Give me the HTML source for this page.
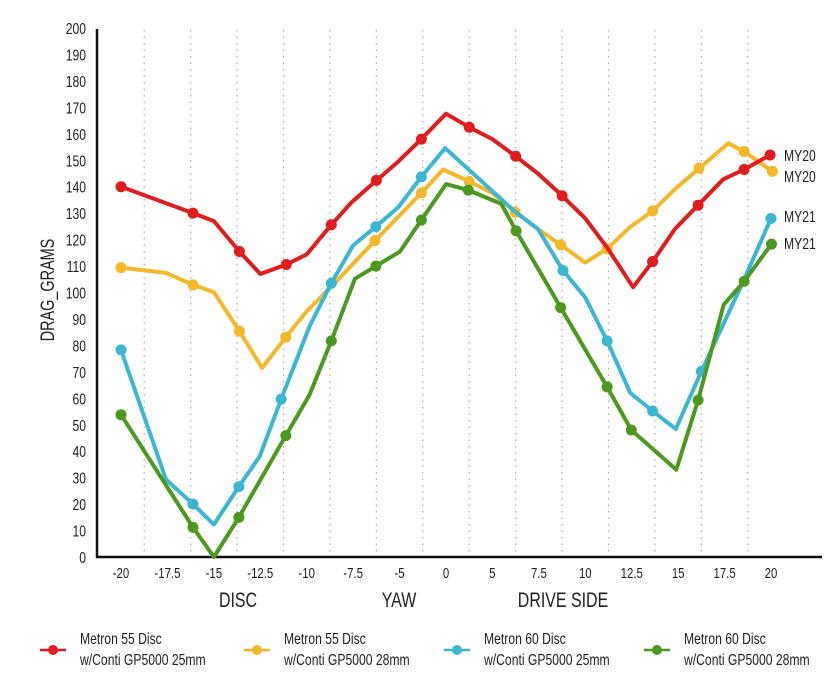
<!DOCTYPE html>
<html><head><meta charset="utf-8"><style>
html,body{margin:0;padding:0;background:#fff;}
svg{display:block;font-family:"Liberation Sans",sans-serif;}
</style></head><body>
<svg id="chart" width="834" height="675" viewBox="0 0 834 675" xmlns="http://www.w3.org/2000/svg"></svg>
<script>
const xLabels=["-20","-17.5","-15","-12.5","-10","-7.5","-5","0","5","7.5","10","12.5","15","17.5","20"];
const yTicks=[0,10,20,30,40,50,60,70,80,90,100,110,120,130,140,150,160,170,180,190,200];
const redX=[0,1.55,2.0,2.55,3.0,3.56,4.0,4.53,4.96,5.5,5.94,6.47,7.0,7.5,8.0,8.5,8.98,9.5,10.0,10.47,11.03,11.45,11.93,12.43,12.97,13.42,13.98];
const redY=[140,130,127,115.5,107,110.6,114.4,125.6,134,142.4,149,158,167.6,162.5,158,151.5,145,136.6,128,117,102,111.7,124,133,142.8,146.5,152];
const redM=[1,1,0,1,0,1,0,1,0,1,0,1,0,1,0,1,0,1,0,0,0,1,0,1,0,1,1];
const yelX=[0,0.97,1.55,2.0,2.55,3.04,3.55,4.0,4.53,5.47,6.47,6.94,7.5,8.0,8.49,8.98,9.47,10.0,10.47,10.96,11.45,11.93,12.45,13.08,13.42,14.03];
const yelY=[109.4,107.4,102.9,100.1,85.4,71.5,83.1,92.9,102.2,119.6,137.6,146.5,142,137.6,130.4,124,118,111.3,116.5,124.7,130.8,139,147,156.4,153.3,145.8];
const yelM=[1,0,1,0,1,0,1,0,0,1,1,0,1,0,1,0,1,0,1,0,1,0,1,0,1,1];
const cyaX=[0,0.97,1.55,2.0,2.54,2.99,3.45,4.06,4.53,5.0,5.49,5.97,6.47,6.98,8.47,8.98,9.52,10.0,10.47,10.97,11.45,11.95,12.5,13.42,14.0];
const cyaY=[78.3,29.3,20,12.3,26.6,38.1,59.7,87.2,103.5,117.8,124.9,132.2,143.7,154.6,130.8,124,108.3,98.1,81.7,62,55.2,48.4,70.2,104.9,128];
const cyaM=[1,0,1,0,1,0,1,0,1,0,1,0,1,0,0,0,1,0,1,0,1,0,1,0,1];
const grnX=[0,1.55,2.0,2.54,3.55,4.06,4.53,5.04,5.49,6.01,6.47,7.0,7.48,8.19,8.51,9.47,10.47,10.99,11.96,12.43,12.98,13.42,14.01];
const grnY=[53.8,11.2,0,15,45.9,61.3,81.7,105.2,110,115.5,127.4,141,138.7,133.5,123.3,94.3,64.3,48,33,59.3,95.4,104.2,118.3];
const grnM=[1,1,0,1,1,0,1,0,1,0,1,0,1,0,1,1,1,1,0,1,0,1,1];
const seriesNames=["Metron 55 Disc|w/Conti GP5000 25mm","Metron 55 Disc|w/Conti GP5000 28mm","Metron 60 Disc|w/Conti GP5000 25mm","Metron 60 Disc|w/Conti GP5000 28mm"];
const endLabels=["MY20","MY20","MY21","MY21"];

const NS="http://www.w3.org/2000/svg";
const svg=document.getElementById('chart');
const X0=121,DX=46.43,Y0=557,YS=2.645,SX=0.76;
function xs(i){return X0+i*DX;}
function ys(v){return Y0-v*YS;}
function mk(tag,attrs,parent){const e=document.createElementNS(NS,tag);for(const k in attrs)e.setAttribute(k,attrs[k]);(parent||svg).appendChild(e);return e;}
function txt(s,x,y,size,anchor,parent){
  const t=mk('text',{x:0,y:0,'text-anchor':anchor||'start','font-size':size,fill:'#222',transform:'translate('+x+','+y+') scale('+SX+',1)'},parent);
  t.textContent=s;return t;
}

for(let i=0;i<xLabels.length-1;i++){
  const g=mk('line',{x1:xs(i+0.5),x2:xs(i+0.5),y1:30,y2:555,stroke:'#aaa','stroke-width':1.2,'stroke-dasharray':'1.5 5'});
  
  
}
yTicks.forEach(v=>{
  const t=txt(v,86,ys(v)+6,16,'end');
  
  
});
xLabels.forEach((l,i)=>{
  const t=txt(l,xs(i),578,15,'middle');
  
  
});
const ya=mk('line',{x1:97,x2:97,y1:29,y2:558,stroke:'#111','stroke-width':2.5});


const xa=mk('line',{x1:96,x2:822,y1:557,y2:557,stroke:'#111','stroke-width':2.5});



const yt=mk('text',{x:0,y:0,'text-anchor':'middle','font-size':19,fill:'#222',transform:'translate(54,290) rotate(-90) scale('+SX+',1)'});
yt.textContent='DRAG_GRAMS';


[["DISC",238,'x-axis-disc-label'],["YAW",399,'x-axis-yaw-label'],["DRIVE SIDE",563,'x-axis-drive-side-label']].forEach(a=>{
  const t=txt(a[0],a[1],607,21,'middle');
  
  
});

const colors=["#e01c1c","#f5b829","#3bb7d3","#4b9a1f"];
const data=[[redX,redY,redM],[yelX,yelY,yelM],[cyaX,cyaY,cyaM],[grnX,grnY,grnM]];
const order=[1,0,2,3];
const endY=[[155,'red'],[176,'yellow'],[216,'cyan'],[243,'green']];
order.forEach(s=>{
  const [X,Y,M]=data[s];
  const g=mk('g',{});
  
  
  const pts=X.map((x,i)=>xs(x).toFixed(1)+','+ys(Y[i]).toFixed(1)).join(' ');
  const pl=mk('polyline',{points:pts,fill:'none',stroke:colors[s],'stroke-width':4,'stroke-linejoin':'round'},g);
  
  
  X.forEach((x,i)=>{ if(M[i]){
    const c=mk('circle',{cx:xs(x),cy:ys(Y[i]),r:5.5,fill:colors[s]},g);
    
    
  }});
  const t=txt(endLabels[s],784,endY[s][0]+6,16,'start');
  
  
});

const legX=[53,257,457,657];
seriesNames.forEach((n,s)=>{
  const g=mk('g',{});
  
  
  const lx=legX[s];
  mk('line',{x1:lx-13,x2:lx+13,y1:650,y2:650,stroke:colors[s],'stroke-width':2.5},g);
  mk('circle',{cx:lx,cy:650,r:5,fill:colors[s]},g);
  const p=n.split('|');
  txt(p[0],lx+27,644,16,'start',g);
  txt(p[1],lx+27,665,16,'start',g);
});
</script>
</body></html>
